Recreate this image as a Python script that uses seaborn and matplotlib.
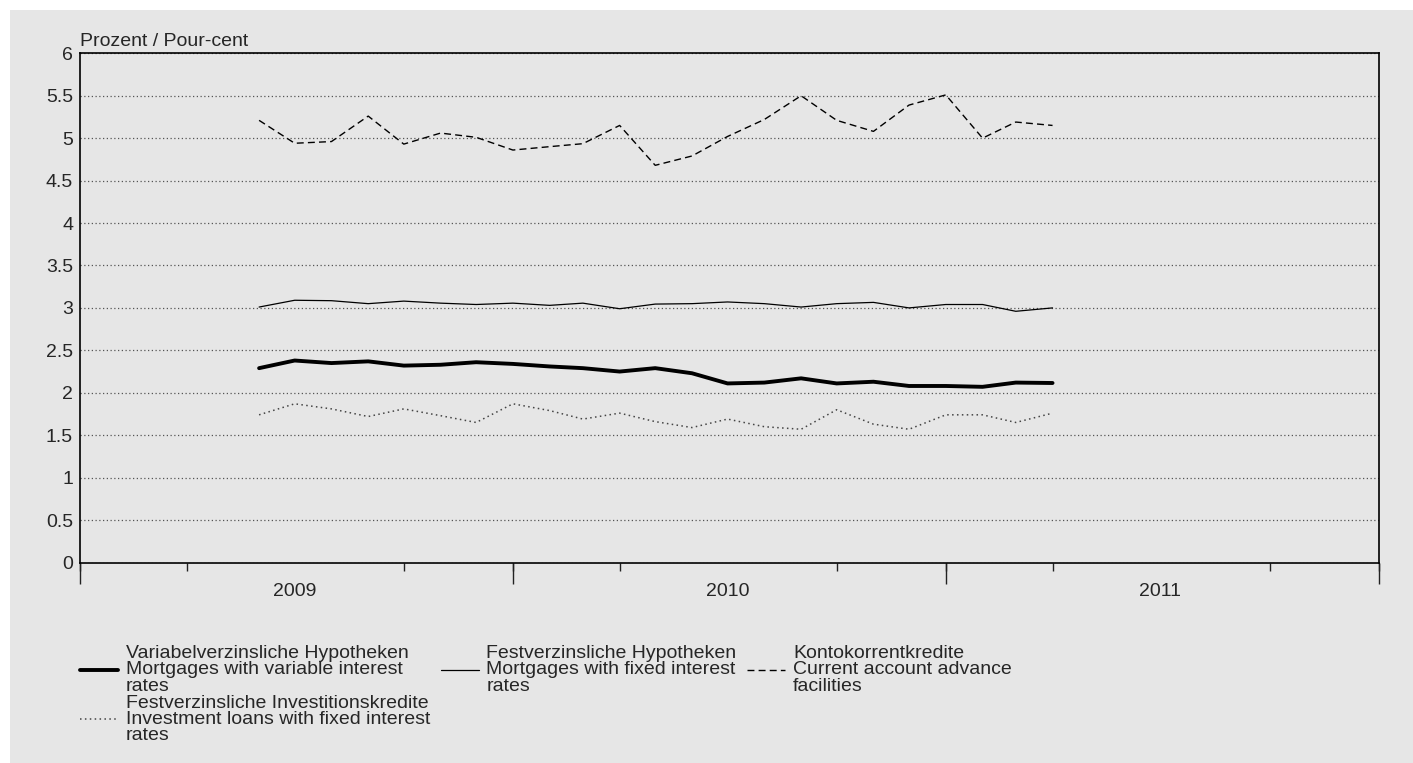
import numpy as np
import pandas as pd
import matplotlib
matplotlib.use("Agg")
import matplotlib.pyplot as plt
from matplotlib.patches import Rectangle
import seaborn as sns

sns.set_style("white")
plt.rcParams["font.family"] = ["Liberation Sans", "DejaVu Sans"]
plt.rcParams["font.size"] = 14

# monthly values, June 2009 - April 2011
months = pd.date_range("2009-06-01", periods=23, freq="MS")
variable = [2.29, 2.38, 2.35, 2.37, 2.32, 2.33, 2.36, 2.34, 2.31, 2.29, 2.25, 2.29,
            2.23, 2.11, 2.12, 2.17, 2.11, 2.13, 2.08, 2.08, 2.07, 2.12, 2.115]
fixed = [3.01, 3.09, 3.085, 3.05, 3.08, 3.056, 3.04, 3.056, 3.03, 3.056, 2.99, 3.045,
         3.05, 3.07, 3.05, 3.01, 3.05, 3.065, 3.00, 3.04, 3.04, 2.96, 3.00]
current = [5.21, 4.94, 4.96, 5.26, 4.93, 5.06, 5.01, 4.86, 4.90, 4.935, 5.15, 4.68,
           4.79, 5.02, 5.22, 5.50, 5.21, 5.08, 5.39, 5.51, 5.00, 5.19, 5.15]
investment = [1.74, 1.87, 1.81, 1.72, 1.81, 1.73, 1.65, 1.87, 1.79, 1.69, 1.76, 1.66,
              1.59, 1.69, 1.60, 1.57, 1.80, 1.63, 1.57, 1.74, 1.74, 1.65, 1.76]

labels = {
    "variable": "Variabelverzinsliche Hypotheken\nMortgages with variable interest\nrates",
    "fixed": "Festverzinsliche Hypotheken\nMortgages with fixed interest\nrates",
    "current": "Kontokorrentkredite\nCurrent account advance\nfacilities",
    "investment": "Festverzinsliche Investitionskredite\nInvestment loans with fixed interest\nrates",
}

bg = "#e6e6e6"
fig = plt.figure(figsize=(14.13, 7.63), dpi=100, facecolor="white")
fig.patches.append(Rectangle((10 / 1413, 0), 1, 1 - 10 / 763, transform=fig.transFigure,
                             facecolor=bg, edgecolor="none", zorder=-10))
ax = fig.add_axes([80 / 1413, 1 - 562.5 / 763, (1378.7 - 80) / 1413, (562.5 - 53.3) / 763])
ax.set_facecolor(bg)

sns.lineplot(x=months, y=variable, ax=ax, color="black", linewidth=2.8, label=labels["variable"])
sns.lineplot(x=months, y=investment, ax=ax, color="#444444", linewidth=1.1, linestyle=(0, (1, 2.2)),
             label=labels["investment"])
sns.lineplot(x=months, y=fixed, ax=ax, color="black", linewidth=0.9, label=labels["fixed"])
sns.lineplot(x=months, y=current, ax=ax, color="black", linewidth=1.0, linestyle=(0, (5, 3)),
             label=labels["current"])

ax.set_ylim(0, 6)
ax.set_yticks(np.arange(0, 6.01, 0.5))
ax.set_yticklabels(["0", "0.5", "1", "1.5", "2", "2.5", "3", "3.5", "4", "4.5", "5", "5.5", "6"])
ax.yaxis.grid(True, linestyle=(0, (1, 2)), color="#555555", linewidth=0.9)
ax.set_axisbelow(True)
ax.tick_params(axis="y", length=0, pad=5)

ax.set_xlim(pd.Timestamp("2009-01-01"), pd.Timestamp("2012-01-01"))
mid_years = [pd.Timestamp(f"{y}-07-01") for y in (2009, 2010, 2011)]
ax.set_xticks(mid_years)
ax.set_xticklabels(["2009", "2010", "2011"])
quarters = pd.date_range("2009-01-01", "2012-01-01", freq="QS")
ax.set_xticks(quarters, minor=True)
ax.tick_params(axis="x", which="both", bottom=True)
ax.tick_params(axis="x", which="major", length=0, pad=15)
ax.tick_params(axis="x", which="minor", length=6, width=1, direction="out", color="#222222")
sec = ax.secondary_xaxis("bottom")
sec.set_xticks([pd.Timestamp(f"{y}-01-01") for y in (2009, 2010, 2011, 2012)])
sec.set_xticklabels([])
sec.tick_params(bottom=True, length=15, width=1, color="#222222")
sec.spines["bottom"].set_visible(False)

for s in ax.spines.values():
    s.set_color("black")
    s.set_linewidth(1.2)
ax.set_xlabel("")
ax.set_ylabel("")
ax.text(0, 1.006, "Prozent / Pour-cent", transform=ax.transAxes, ha="left", va="bottom")

leg = ax.legend(loc="upper left", bbox_to_anchor=(80 / 1413, 1 - 645 / 763),
                bbox_transform=fig.transFigure, ncol=3, frameon=False, borderpad=0,
                handlelength=1.95, handletextpad=0.4, columnspacing=0.55, labelspacing=0.0,
                borderaxespad=0)
for t in leg.get_texts():
    t.set_linespacing(0.95)

fig.savefig("out.png", dpi=100, facecolor="white")
